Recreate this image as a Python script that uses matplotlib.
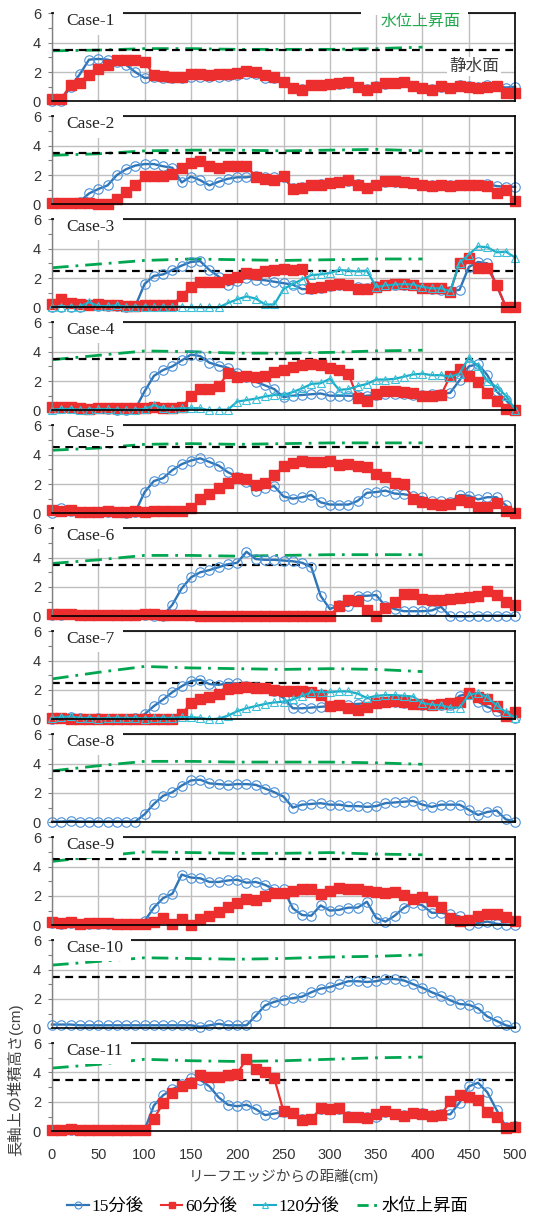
import matplotlib
matplotlib.use("Agg")
import matplotlib.pyplot as plt
from matplotlib.lines import Line2D
from matplotlib.patches import Rectangle
from matplotlib.font_manager import FontProperties

plt.rcParams['font.family'] = ['Liberation Sans', 'Noto Sans CJK JP']

# distance from reef edge (cm)
dist = list(range(0, 501, 10))
rise_x = [0, 50, 100, 150, 200, 250, 300, 350, 400]

case_names = ['Case-1', 'Case-2', 'Case-3', 'Case-4', 'Case-5', 'Case-6',
              'Case-7', 'Case-8', 'Case-9', 'Case-10', 'Case-11']

# still water level (cm)
still = [3.5, 3.5, 2.5, 3.5, 4.5, 3.5, 2.5, 3.5, 4.5, 3.5, 3.5]

# raised water level (cm)
rise1 = [3.45, 3.5, 3.6, 3.6, 3.55, 3.55, 3.55, 3.6, 3.7]
rise2 = [3.35, 3.45, 3.65, 3.7, 3.7, 3.65, 3.7, 3.75, 3.65]
rise3 = [2.7, 2.95, 3.2, 3.3, 3.25, 3.2, 3.25, 3.3, 3.3]
rise4 = [3.45, 3.75, 4.05, 4.0, 3.9, 3.9, 3.95, 4.05, 4.1]
rise5 = [4.3, 4.45, 4.7, 4.75, 4.7, 4.75, 4.8, 4.8, 4.8]
rise6 = [3.6, 3.85, 4.15, 4.15, 4.1, 4.15, 4.2, 4.2, 4.2]
rise7 = [2.75, 3.2, 3.6, 3.5, 3.45, 3.4, 3.45, 3.4, 3.25]
rise8 = [3.5, 3.85, 4.15, 4.15, 4.1, 4.1, 4.1, 4.05, 3.95]
rise9 = [4.35, 4.7, 5.0, 4.95, 4.9, 4.9, 4.95, 4.85, 4.8]
rise10 = [4.3, 4.55, 4.8, 4.75, 4.7, 4.75, 4.85, 4.9, 5.0]
rise11 = [4.3, 4.55, 4.9, 4.8, 4.75, 4.8, 4.9, 5.0, 5.05]

# deposit height after 15 min
c1_15 = [0.05, 0.05, 1.0, 1.85, 2.85, 2.9, 2.85, 2.7, 2.5, 2.0,
         1.6, 1.65, 1.6, 1.6, 1.6, 1.7, 1.7, 1.65, 1.7, 1.75,
         1.8, 1.85, 1.85, 1.6, 1.6, 1.3, 0.95, 0.85, 1.1, 1.1,
         1.2, 1.2, 1.25, 1.0, 0.85, 1.05, 1.2, 1.25, 1.3, 1.05,
         0.95, 0.85, 1.0, 0.95, 1.15, 1.05, 1.0, 1.1, 1.05, 0.95,
         1.0]
c2_15 = [0.1, 0.1, 0.1, 0.2, 0.75, 1.05, 1.3, 2.0, 2.4, 2.65,
         2.75, 2.75, 2.6, 2.5, 1.5, 1.9, 1.65, 1.3, 1.55, 1.75,
         1.85, 1.85, 1.95, 1.9, 1.9, 1.85, 1.1, 1.2, 1.3, 1.4,
         1.45, 1.55, 1.6, 1.4, 1.15, 1.35, 1.55, 1.55, 1.5, 1.45,
         1.35, 1.3, 1.35, 1.3, 1.35, 1.3, 1.35, 1.4, 1.25, 1.2,
         1.2]
c3_15 = [0.05, 0.05, 0.05, 0.05, 0.15, 0.1, 0.1, 0.1, 0.05, 0.1,
         1.6, 2.15, 2.25, 2.55, 2.85, 3.1, 3.15, 2.55, 2.1, 1.5,
         1.8, 2.0, 1.9, 1.85, 1.75, 1.65, 1.55, 1.25, 1.25, 1.35,
         1.45, 1.5, 1.5, 1.4, 1.35, 1.45, 1.5, 1.55, 1.55, 1.5,
         1.35, 1.25, 1.2, 1.1, 1.2, 2.75, 3.1, 3.0, 1.5, 0.05,
         0.05]
c4_15 = [0.15, 0.2, 0.15, 0.1, 0.1, 0.15, 0.1, 0.05, 0.05, 0.1,
         1.3, 2.35, 2.75, 3.0, 3.4, 3.8, 3.7, 3.25, 3.05, 2.9,
         2.55, 2.25, 1.95, 1.7, 1.45, 0.9, 1.0, 1.05, 1.1, 1.15,
         1.0, 1.0, 1.0, 0.95, 1.0, 1.05, 1.1, 1.1, 1.1, 1.05,
         1.05, 1.1, 1.1, 1.2, 2.05, 3.0, 3.15, 2.4, 1.3, 0.7,
         0.05]
c5_15 = [0.05, 0.35, 0.15, 0.1, 0.1, 0.1, 0.1, 0.1, 0.05, 0.1,
         1.45, 2.2, 2.4, 2.95, 3.35, 3.6, 3.75, 3.5, 3.25, 2.8,
         2.5, 2.15, 1.55, 1.75, 1.85, 1.15, 1.0, 1.1, 1.25, 0.75,
         0.6, 0.6, 0.6, 0.85, 1.4, 1.45, 1.55, 1.35, 1.3, 1.2,
         1.1, 0.85, 0.85, 0.75, 1.25, 1.2, 0.95, 1.1, 1.1, 0.55,
         0.05]
c6_15 = [0.1, 0.1, 0.15, 0.1, 0.1, 0.1, 0.1, 0.1, 0.1, 0.1,
         0.1, 0.05, 0.05, 0.8, 1.9, 2.65, 3.0, 3.15, 3.35, 3.55,
         3.65, 4.4, 3.9, 3.85, 3.85, 3.8, 3.75, 3.65, 3.35, 1.4,
         0.5, 0.75, 0.7, 1.4, 1.4, 1.45, 0.7, 0.5, 0.35, 0.35,
         0.35, 0.4, 0.65, 0.0, 0.0, 0.0, 0.05, 0.05, 0.05, 0.05,
         0.05]
c7_15 = [0.05, 0.1, 0.15, 0.1, 0.05, 0.1, 0.05, 0.05, 0.05, 0.1,
         0.35, 0.9, 1.35, 1.85, 2.25, 2.6, 2.7, 2.4, 2.35, 2.45,
         2.45, 2.3, 2.2, 2.1, 1.9, 1.45, 0.75, 0.75, 0.8, 0.85,
         0.9, 1.0, 1.0, 1.05, 1.1, 1.15, 1.2, 1.15, 1.1, 1.05,
         1.0, 1.0, 0.95, 1.0, 1.6, 1.75, 1.2, 0.85, 0.6, 0.3,
         0.1]
c8_15 = [0.05, 0.05, 0.1, 0.05, 0.05, 0.05, 0.05, 0.05, 0.05, 0.05,
         0.55, 1.25, 1.8, 2.05, 2.5, 2.85, 2.9, 2.65, 2.6, 2.55,
         2.6, 2.6, 2.55, 2.3, 2.05, 1.75, 1.0, 1.2, 1.25, 1.3,
         1.2, 1.2, 1.1, 1.1, 1.05, 1.1, 1.3, 1.35, 1.4, 1.45,
         1.2, 1.05, 1.2, 1.2, 1.2, 0.85, 0.5, 0.7, 0.8, 0.2,
         0.05]
c9_15 = [0.15, 0.1, 0.15, 0.1, 0.1, 0.1, 0.1, 0.1, 0.1, 0.1,
         0.3, 1.2, 1.85, 2.15, 3.45, 3.25, 3.2, 2.95, 2.95, 3.05,
         3.1, 2.9, 2.95, 2.75, 2.45, 2.45, 1.15, 0.7, 0.65, 1.35,
         1.0, 1.05, 1.2, 1.2, 1.6, 0.5, 0.25, 0.65, 1.2, 1.55,
         1.35, 0.85, 0.85, 0.75, 0.6, 0.05, 0.15, 0.25, 0.1, 0.05,
         0.0]
c10_15 = [0.25, 0.25, 0.25, 0.2, 0.2, 0.2, 0.2, 0.2, 0.2, 0.2,
          0.2, 0.2, 0.2, 0.2, 0.2, 0.2, 0.1, 0.2, 0.3, 0.2,
          0.2, 0.2, 0.85, 1.55, 1.8, 1.95, 2.05, 2.15, 2.45, 2.7,
          2.8, 3.0, 3.2, 3.2, 3.15, 3.2, 3.35, 3.35, 3.25, 3.0,
          2.75, 2.45, 2.2, 1.9, 1.65, 1.6, 1.35, 0.8, 0.5, 0.2,
          0.05]
c11_15 = [0.05, 0.1, 0.1, 0.05, 0.05, 0.1, 0.1, 0.05, 0.05, 0.05,
          0.1, 1.75, 2.45, 2.85, 3.2, 3.6, 3.5, 3.05, 2.3, 1.8,
          1.7, 1.8, 1.5, 1.1, 1.2, 1.3, 1.25, 0.8, 0.85, 1.5,
          1.5, 1.5, 1.05, 1.0, 0.95, 0.95, 1.3, 1.2, 1.1, 1.25,
          1.25, 1.1, 1.15, 1.15, 1.95, 3.05, 3.3, 2.65, 1.45, 0.3,
          0.35]

# deposit height after 60 min
c1_60 = [0.2, 0.2, 1.1, 1.25, 1.8, 2.2, 2.5, 2.8, 2.85, 2.85,
         2.7, 1.8, 1.75, 1.7, 1.7, 1.85, 1.9, 1.8, 1.85, 1.9,
         1.95, 2.05, 2.0, 1.8, 1.7, 1.35, 0.95, 0.8, 1.1, 1.15,
         1.2, 1.25, 1.3, 1.0, 0.8, 1.0, 1.25, 1.25, 1.35, 1.05,
         0.95, 0.8, 1.05, 0.9, 1.05, 1.0, 0.95, 1.0, 1.05, 0.6,
         0.6]
c2_60 = [0.1, 0.1, 0.1, 0.1, 0.1, 0.05, 0.05, 0.35, 0.85, 1.3,
         1.95, 1.95, 1.95, 2.1, 2.45, 2.85, 2.95, 2.6, 2.45, 2.6,
         2.6, 2.65, 1.85, 1.7, 1.65, 1.95, 1.05, 1.15, 1.3, 1.35,
         1.45, 1.55, 1.65, 1.35, 1.1, 1.35, 1.6, 1.6, 1.5, 1.45,
         1.35, 1.25, 1.35, 1.25, 1.3, 1.3, 1.3, 1.25, 0.75, 1.0,
         0.25]
c3_60 = [0.25, 0.55, 0.3, 0.2, 0.15, 0.2, 0.15, 0.15, 0.1, 0.1,
         0.15, 0.15, 0.15, 0.15, 0.8, 1.4, 1.75, 1.75, 1.75, 1.95,
         2.1, 2.35, 2.3, 2.5, 2.55, 2.6, 2.55, 2.6, 1.3, 1.4,
         1.5, 1.6, 1.5, 1.25, 1.25, 1.4, 1.5, 1.6, 1.6, 1.5,
         1.35, 1.3, 1.3, 1.05, 3.05, 3.35, 2.7, 2.7, 1.55, 0.05,
         0.05]
c4_60 = [0.2, 0.2, 0.2, 0.15, 0.1, 0.15, 0.15, 0.15, 0.15, 0.15,
         0.15, 0.2, 0.15, 0.15, 0.2, 1.0, 1.45, 1.45, 1.65, 2.55,
         2.3, 2.35, 2.3, 2.35, 2.6, 2.75, 2.95, 3.1, 3.15, 3.1,
         2.9, 2.75, 2.5, 0.85, 0.65, 1.1, 1.3, 1.3, 1.25, 1.2,
         0.95, 1.0, 1.05, 2.35, 2.85, 2.35, 1.9, 1.2, 0.65, 0.1,
         0.05]
c5_60 = [0.2, 0.15, 0.2, 0.1, 0.1, 0.1, 0.15, 0.1, 0.1, 0.15,
         0.1, 0.15, 0.15, 0.15, 0.15, 0.35, 0.95, 1.35, 1.7, 2.05,
         2.4, 2.35, 1.95, 2.1, 2.6, 3.2, 3.4, 3.6, 3.5, 3.5,
         3.55, 3.3, 3.35, 3.2, 3.15, 2.7, 2.5, 2.1, 2.0, 1.0,
         0.8, 0.65, 0.55, 0.65, 0.9, 0.75, 0.45, 0.45, 0.7, 0.15,
         0.05]
c6_60 = [0.15, 0.15, 0.15, 0.1, 0.1, 0.1, 0.1, 0.1, 0.1, 0.1,
         0.15, 0.15, 0.1, 0.1, 0.1, 0.1, 0.05, 0.05, 0.0, 0.05,
         0.05, 0.05, 0.05, 0.05, 0.0, 0.0, 0.0, 0.0, 0.0, 0.0,
         0.05, 0.7, 1.1, 1.05, 0.45, 0.05, 0.55, 1.0, 1.5, 1.55,
         1.2, 1.1, 1.1, 1.15, 1.25, 1.3, 1.4, 1.7, 1.45, 1.0,
         0.8]
c7_60 = [0.1, 0.1, 0.05, 0.05, 0.05, 0.05, 0.0, 0.05, 0.05, 0.0,
         0.05, 0.05, 0.05, 0.05, 0.35, 1.1, 1.4, 1.5, 1.7, 2.05,
         2.1, 2.2, 2.15, 2.1, 2.0, 1.95, 1.9, 1.9, 1.85, 1.65,
         0.9, 0.95, 0.75, 0.65, 0.85, 1.1, 1.2, 1.25, 1.15, 1.05,
         1.05, 1.0, 1.05, 1.1, 1.15, 1.8, 1.5, 1.4, 0.9, 0.25,
         0.5]
c9_60 = [0.2, 0.15, 0.2, 0.1, 0.15, 0.15, 0.15, 0.1, 0.1, 0.1,
         0.1, 0.2, 0.5, 0.1, 0.45, 0.05, 0.45, 0.6, 0.9, 1.25,
         1.5, 1.8, 1.75, 2.0, 2.2, 2.2, 2.3, 2.45, 2.5, 2.15,
         2.35, 2.55, 2.5, 2.45, 2.3, 2.25, 2.2, 2.25, 2.05, 1.8,
         1.9, 1.65, 1.25, 0.5, 0.3, 0.35, 0.65, 0.8, 0.75, 0.55,
         0.3]
c11_60 = [0.05, 0.1, 0.15, 0.05, 0.05, 0.1, 0.1, 0.1, 0.1, 0.1,
          0.05, 0.85, 1.9, 2.6, 3.1, 3.3, 3.8, 3.7, 3.7, 3.8,
          3.9, 4.95, 4.25, 4.05, 3.6, 1.35, 1.25, 0.75, 0.8, 1.55,
          1.5, 1.55, 1.0, 0.95, 0.9, 1.2, 1.35, 1.2, 1.05, 1.25,
          1.15, 1.05, 1.1, 2.05, 2.45, 2.35, 2.1, 1.3, 1.0, 0.25,
          0.3]

# deposit height after 120 min
c3_120 = [0.05, 0.05, 0.05, 0.05, 0.35, 0.1, 0.1, 0.15, 0.05, 0.05,
          0.05, 0.05, 0.05, 0.05, 0.05, 0.0, 0.0, 0.0, 0.0, 0.3,
          0.55, 0.75, 0.6, 0.2, 0.2, 1.25, 1.6, 1.9, 2.2, 2.25,
          2.35, 2.55, 2.5, 2.45, 2.5, 1.4, 1.5, 1.55, 1.6, 1.55,
          1.4, 1.3, 1.3, 1.1, 3.05, 3.6, 4.15, 4.1, 3.75, 3.8,
          3.4]
c4_120 = [0.05, 0.1, 0.1, 0.05, 0.05, 0.1, 0.1, 0.05, 0.05, 0.05,
          0.1, 0.35, 0.15, 0.1, 0.15, 0.15, 0.15, 0.0, 0.05, 0.05,
          0.6, 0.7, 0.8, 0.95, 1.05, 1.05, 1.25, 1.5, 1.8, 1.85,
          2.15, 1.4, 1.45, 1.65, 1.8, 2.1, 2.1, 2.15, 2.3, 2.45,
          2.5, 2.4, 2.4, 2.3, 2.5, 3.6, 3.0, 2.0, 1.6, 1.0,
          0.05]
c7_120 = [0.1, 0.15, 0.2, 0.1, 0.1, 0.05, 0.1, 0.1, 0.1, 0.1,
          0.05, 0.1, 0.1, 0.1, 0.15, 0.15, 0.1, 0.0, 0.05, 0.25,
          0.55, 0.75, 0.9, 1.05, 1.15, 1.2, 1.35, 1.6, 1.85, 1.85,
          1.85, 1.9, 1.9, 1.75, 1.45, 1.6, 1.65, 1.65, 1.6, 1.55,
          1.1, 1.0, 0.95, 0.8, 0.8, 1.65, 1.8, 1.5, 0.95, 0.5,
          0.1]

rise = [rise1, rise2, rise3, rise4, rise5, rise6, rise7, rise8, rise9, rise10, rise11]
after15 = [c1_15, c2_15, c3_15, c4_15, c5_15, c6_15, c7_15, c8_15, c9_15, c10_15, c11_15]
after60 = [c1_60, c2_60, c3_60, c4_60, c5_60, c6_60, c7_60, None, c9_60, None, c11_60]
after120 = [None, None, c3_120, c4_120, None, None, c7_120, None, None, None, None]

blue, blue_mk = '#2F75B5', '#4A90D9'
red = '#EC2E2E'
cyan, cyan_mk = '#1AADC6', '#3CBFD8'
green = '#00A650'

fig = plt.figure(figsize=(5.36, 12.17), dpi=100)
gs = fig.add_gridspec(11, 1, left=0.097, right=0.961, top=0.989,
                      bottom=0.0705, hspace=0.169)

for i, name in enumerate(case_names):
    ax = fig.add_subplot(gs[i])
    ax.set_xlim(0, 500)
    ax.set_ylim(0, 6)
    ax.set_xticks(range(0, 501, 50))
    ax.set_yticks([0, 2, 4, 6])
    ax.set_yticks([1, 3, 5], minor=True)
    ax.grid(True, which='major', color='#BFBFBF', lw=1.0)
    ax.set_axisbelow(True)
    ax.tick_params(axis='x', length=0, pad=12, labelsize=10.5,
                   labelcolor='#333333', labelbottom=(i == 10))
    ax.tick_params(axis='y', which='both', direction='out', length=3,
                   width=0.8, color='#808080', labelsize=10.5,
                   labelcolor='#333333', pad=5)
    for s in ['top', 'right', 'bottom']:
        ax.spines[s].set_color('black')
        ax.spines[s].set_linewidth(1.2)
    ax.spines['left'].set_color('#808080')
    ax.spines['left'].set_linewidth(1.0)

    ax.plot(rise_x, rise[i], color=green, lw=2.0, dashes=(6, 2.5, 1, 2.5),
            zorder=2.1)
    ax.axhline(still[i], color='black', lw=1.6, dashes=(3.5, 2.5), zorder=2.2)

    ax.plot(dist, after15[i], color=blue, lw=1.7, marker='o', ms=6.8,
            mfc='none', mec=blue_mk, mew=0.8, zorder=2.3, clip_on=False)
    if after60[i] is not None:
        ax.plot(dist, after60[i], color=red, lw=1.6, marker='s', ms=6.5,
                mfc=red, mec=red, zorder=2.4, clip_on=False)
    if after120[i] is not None:
        ax.plot(dist, after120[i], color=cyan, lw=1.6, marker='^', ms=6,
                mfc='none', mec=cyan_mk, mew=0.8, zorder=2.5, clip_on=False)

    # white label box over the top-left corner
    w = 0.149 if len(name) < 7 else 0.166
    ax.add_patch(Rectangle((0.004, 0.76), w, 0.27, transform=ax.transAxes,
                           facecolor='white', edgecolor='none', zorder=3,
                           clip_on=False))
    ax.text(0.03, 5.45, name, transform=ax.get_yaxis_transform(),
            family='Liberation Serif', fontsize=12.5, color='#222222',
            ha='left', va='center', zorder=4)
    ax.set_zorder(20 - i)

    if i == 0:
        ax.add_patch(Rectangle((0.667, 0.985), 0.231, 0.04,
                               transform=ax.transAxes, facecolor='white',
                               edgecolor='none', zorder=3, clip_on=False))
        ax.text(0.795, 0.903, '水位上昇面', transform=ax.transAxes,
                fontsize=11.5, color='#22A84F', ha='center', va='center',
                zorder=4)
        ax.text(0.911, 0.395, '静水面', transform=ax.transAxes,
                fontsize=12, color='#404040', ha='center', va='center',
                zorder=4,
                bbox=dict(facecolor='white', edgecolor='none', pad=1.5))

fig.text(283.5 / 536, 1 - 1177 / 1217, 'リーフエッジからの距離(cm)',
         fontsize=10.5, color='#404040', ha='center', va='center')
fig.text(15 / 536, 1 - 1080 / 1217, '長軸上の堆積高さ(cm)', rotation=90,
         fontsize=11, color='#404040', ha='center', va='center')

handles = [
    Line2D([], [], color=blue, lw=1.6, marker='o', ms=5, mfc='none',
           mec=blue_mk, mew=0.8),
    Line2D([], [], color=red, lw=1.5, marker='s', ms=5, mfc=red, mec=red),
    Line2D([], [], color=cyan, lw=1.5, marker='^', ms=5, mfc='none',
           mec=cyan_mk, mew=0.8),
    Line2D([], [], color=green, lw=2.0, dashes=(4, 2, 1, 2)),
]
labels = ['15分後', '60分後', '120分後', '水位上昇面']
fig.legend(handles, labels, loc='center left',
           bbox_to_anchor=(67 / 536, 1 - 1207 / 1217), ncol=4, frameon=False,
           prop=FontProperties(family=['Liberation Serif', 'Noto Sans CJK JP'],
                               size=12.5),
           handlelength=1.25, handletextpad=0.15, columnspacing=1.0,
           borderpad=0, borderaxespad=0)

fig.savefig('out.png', dpi=100)
